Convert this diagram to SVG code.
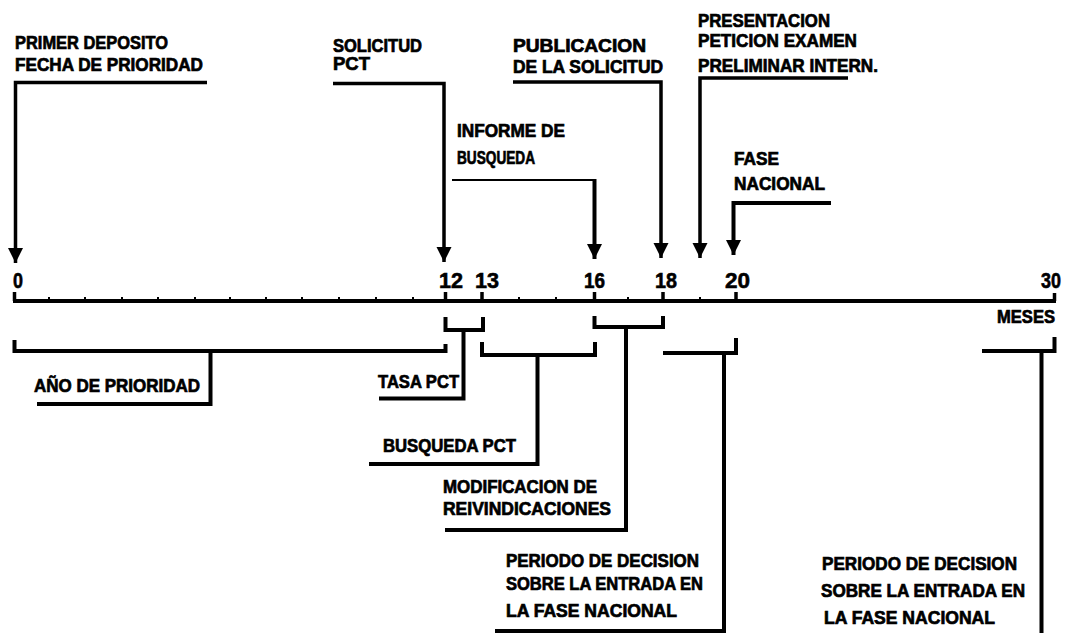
<svg xmlns="http://www.w3.org/2000/svg" width="1065" height="633" viewBox="0 0 1065 633">
<style>
.t{font-family:"Liberation Sans",Arial,sans-serif;font-weight:bold;font-size:18px;fill:#000;stroke:#000;stroke-width:0.7}
.n{font-family:"Liberation Sans",Arial,sans-serif;font-weight:bold;font-size:22px;fill:#000;stroke:#000;stroke-width:0.6}
.ln{fill:none;stroke:#000;stroke-width:3.5;stroke-linejoin:miter}
.br{fill:none;stroke:#000;stroke-width:4;stroke-linejoin:miter}
.thin{fill:none;stroke:#000;stroke-width:2}
.tk{stroke:#000;stroke-width:3.5}
.mt{stroke:#000;stroke-width:2}
</style>
<defs>
<marker id="arr" viewBox="0 -8 16 16" refX="15" refY="0" markerWidth="16" markerHeight="16" markerUnits="userSpaceOnUse" orient="auto">
<path d="M0,-7.5 L15,0 L0,7.5 Z" fill="#000"/>
</marker>
</defs>
<rect width="1065" height="633" fill="#fff"/>

<g id="axis">
<line x1="13" y1="301" x2="1056" y2="301" stroke="#000" stroke-width="4"/>
<line class="tk" x1="14.5" y1="292" x2="14.5" y2="301"/>
<line class="tk" x1="445.5" y1="292" x2="445.5" y2="301"/>
<line class="tk" x1="482" y1="292" x2="482" y2="301"/>
<line class="tk" x1="594.5" y1="292" x2="594.5" y2="301"/>
<line class="tk" x1="663" y1="292" x2="663" y2="301"/>
<line class="tk" x1="736" y1="292" x2="736" y2="301"/>
<line class="tk" x1="1054.5" y1="293" x2="1054.5" y2="301"/>
<g>
<line class="mt" x1="49" y1="297" x2="49" y2="300"/>
<line class="mt" x1="85" y1="297" x2="85" y2="300"/>
<line class="mt" x1="122" y1="297" x2="122" y2="300"/>
<line class="mt" x1="158" y1="297" x2="158" y2="300"/>
<line class="mt" x1="195" y1="297" x2="195" y2="300"/>
<line class="mt" x1="230" y1="297" x2="230" y2="300"/>
<line class="mt" x1="266" y1="297" x2="266" y2="300"/>
<line class="mt" x1="302" y1="297" x2="302" y2="300"/>
<line class="mt" x1="339" y1="297" x2="339" y2="300"/>
<line class="mt" x1="376" y1="297" x2="376" y2="300"/>
<line class="mt" x1="413" y1="297" x2="413" y2="300"/>
<line class="mt" x1="519" y1="297" x2="519" y2="300"/>
<line class="mt" x1="556" y1="297" x2="556" y2="300"/>
<line class="mt" x1="628" y1="297" x2="628" y2="300"/>
<line class="mt" x1="700" y1="297" x2="700" y2="300"/>
</g>
<text class="n" x="13" y="288" textLength="10" lengthAdjust="spacingAndGlyphs">0</text>
<text class="n" x="439" y="288" textLength="24" lengthAdjust="spacingAndGlyphs">12</text>
<text class="n" x="475" y="288" textLength="24" lengthAdjust="spacingAndGlyphs">13</text>
<text class="n" x="584" y="288" textLength="21" lengthAdjust="spacingAndGlyphs">16</text>
<text class="n" x="655" y="288" textLength="22" lengthAdjust="spacingAndGlyphs">18</text>
<text class="n" x="725" y="288" textLength="25" lengthAdjust="spacingAndGlyphs">20</text>
<text class="n" x="1041" y="288" textLength="20" lengthAdjust="spacingAndGlyphs">30</text>
<text class="t" x="997" y="323" textLength="58" lengthAdjust="spacingAndGlyphs">MESES</text>
</g>

<g id="connectors">
<path class="ln" d="M207,82.5 H15.5 V263" marker-end="url(#arr)"/>
<path class="ln" d="M333,83.5 H444 V262" marker-end="url(#arr)"/>
<line class="thin" x1="452" y1="180" x2="596" y2="180"/>
<path class="br" d="M594.5,179 V259" marker-end="url(#arr)"/>
<path class="ln" d="M513,82 H661 V258" marker-end="url(#arr)"/>
<path class="ln" d="M848,78 H700 V258" marker-end="url(#arr)"/>
<path class="br" d="M831,203 H733.5 V255" marker-end="url(#arr)"/>

<path class="br" d="M14.5,340 V351 H445.5 V344"/>
<path class="br" d="M210.5,351 V404 H37"/>
<path class="br" d="M445.5,317 V330 H483 V317"/>
<path class="br" d="M463.5,330 V398.5 H379"/>
<path class="br" d="M482,342 V355 H595 V342"/>
<path class="br" d="M537.5,355 V464 H369"/>
<path class="br" d="M594.5,316 V327 H663 V316"/>
<path class="br" d="M626,327 V530 H445"/>
<path class="br" d="M663,353 H736 V338"/>
<path class="br" d="M724,353 V631 H495"/>
<path class="br" d="M982,351 H1054.5 V337"/>
<path class="br" d="M1041.5,351 V633"/>
</g>

<g id="primer-deposito">
<text class="t" x="15" y="49" textLength="153" lengthAdjust="spacingAndGlyphs">PRIMER DEPOSITO</text>
<text class="t" x="15" y="71" textLength="188" lengthAdjust="spacingAndGlyphs">FECHA DE PRIORIDAD</text>
</g>
<g id="solicitud-pct">
<text class="t" x="333" y="52" textLength="89" lengthAdjust="spacingAndGlyphs">SOLICITUD</text>
<text class="t" x="333" y="70" textLength="37" lengthAdjust="spacingAndGlyphs">PCT</text>
</g>
<g id="informe-busqueda">
<text class="t" x="457" y="137" textLength="108" lengthAdjust="spacingAndGlyphs">INFORME DE</text>
<text class="t" x="457" y="164" textLength="78" lengthAdjust="spacingAndGlyphs">BUSQUEDA</text>
</g>
<g id="publicacion">
<text class="t" x="513" y="52" textLength="133" lengthAdjust="spacingAndGlyphs">PUBLICACION</text>
<text class="t" x="513" y="73" textLength="150" lengthAdjust="spacingAndGlyphs">DE LA SOLICITUD</text>
</g>
<g id="presentacion">
<text class="t" x="698" y="27" textLength="132" lengthAdjust="spacingAndGlyphs">PRESENTACION</text>
<text class="t" x="698" y="47" textLength="159" lengthAdjust="spacingAndGlyphs">PETICION EXAMEN</text>
<text class="t" x="698" y="72" textLength="180" lengthAdjust="spacingAndGlyphs">PRELIMINAR INTERN.</text>
</g>
<g id="fase-nacional">
<text class="t" x="734" y="165" textLength="45" lengthAdjust="spacingAndGlyphs">FASE</text>
<text class="t" x="734" y="190" textLength="91" lengthAdjust="spacingAndGlyphs">NACIONAL</text>
</g>
<g id="ano-prioridad">
<text class="t" x="34" y="392" textLength="166" lengthAdjust="spacingAndGlyphs">AÑO DE PRIORIDAD</text>
</g>
<g id="tasa-pct">
<text class="t" x="378" y="388" textLength="81" lengthAdjust="spacingAndGlyphs">TASA PCT</text>
</g>
<g id="busqueda-pct">
<text class="t" x="383" y="452" textLength="133" lengthAdjust="spacingAndGlyphs">BUSQUEDA PCT</text>
</g>
<g id="modificacion">
<text class="t" x="443" y="493" textLength="154" lengthAdjust="spacingAndGlyphs">MODIFICACION DE</text>
<text class="t" x="443" y="515" textLength="168" lengthAdjust="spacingAndGlyphs">REIVINDICACIONES</text>
</g>
<g id="periodo-1">
<text class="t" x="506" y="567" textLength="193" lengthAdjust="spacingAndGlyphs">PERIODO DE DECISION</text>
<text class="t" x="506" y="590" textLength="197" lengthAdjust="spacingAndGlyphs">SOBRE LA ENTRADA EN</text>
<text class="t" x="506" y="617" textLength="171" lengthAdjust="spacingAndGlyphs">LA FASE NACIONAL</text>
</g>
<g id="periodo-2">
<text class="t" x="822" y="570" textLength="195" lengthAdjust="spacingAndGlyphs">PERIODO DE DECISION</text>
<text class="t" x="821" y="597" textLength="204" lengthAdjust="spacingAndGlyphs">SOBRE LA ENTRADA EN</text>
<text class="t" x="824" y="624" textLength="171" lengthAdjust="spacingAndGlyphs">LA FASE NACIONAL</text>
</g>
</svg>
